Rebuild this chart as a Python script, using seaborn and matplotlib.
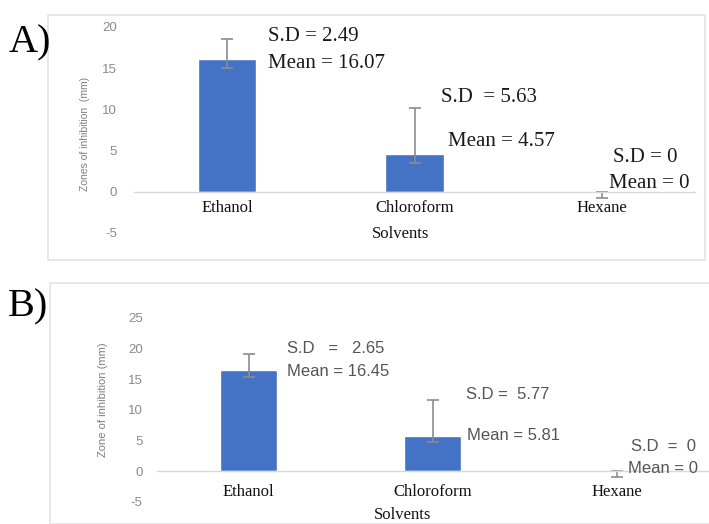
import numpy as np
import pandas as pd
import matplotlib
matplotlib.use("Agg")
import matplotlib.pyplot as plt
import seaborn as sns
from matplotlib.patches import Rectangle

# data
solvents = ["Ethanol", "Chloroform", "Hexane"]
mean_a = [16.07, 4.57, 0.0]
sd_a = [2.49, 5.63, 0.0]
low_a = [1.07, 1.07, 0.8]      # lower whisker as drawn in the picture
mean_b = [16.45, 5.81, 0.0]
sd_b = [2.65, 5.77, 0.0]
low_b = [1.1, 1.1, 0.9]

sd_text_a = ["S.D = 2.49", "S.D  = 5.63", "S.D = 0"]
mean_text_a = ["Mean = 16.07", "Mean = 4.57", "Mean = 0"]
sd_text_b = ["S.D   =   2.65", "S.D =  5.77", "S.D  =  0"]
mean_text_b = ["Mean = 16.45", "Mean = 5.81", "Mean = 0"]

sns.set_theme(style="white")
plt.rcParams["font.family"] = ["Liberation Sans", "DejaVu Sans"]

BLUE = "#4472C4"
GREY = "#8c8c8c"
SERIF = ["Liberation Serif", "DejaVu Serif"]
SANS = ["Liberation Sans", "DejaVu Sans"]

fig = plt.figure(figsize=(7.09, 5.24), dpi=100)

# panel frames
fig.patches.append(Rectangle((48 / 709, 1 - 260 / 524), 657 / 709, 245 / 524,
                             transform=fig.transFigure, fill=False,
                             edgecolor="#e4e4e4", lw=1.2))
fig.patches.append(Rectangle((50 / 709, 1 - 524 / 524), 660 / 709, 241 / 524,
                             transform=fig.transFigure, fill=False,
                             edgecolor="#e4e4e4", lw=1.2))


def panel(rect, means, sds, lows, ylim, yticks, sd_txt, mean_txt,
          sd_pos, mean_pos, ann_font, ann_color, ann_size, ypad, xpad):
    ax = fig.add_axes(rect)
    df = pd.DataFrame({"solvent": solvents, "mean": means})
    sns.barplot(data=df, x="solvent", y="mean", color=BLUE, width=0.31,
                saturation=1, errorbar=None, ax=ax)
    ax.errorbar(range(len(solvents)), means, yerr=[lows, sds], fmt="none",
                ecolor=GREY, elinewidth=1.2, capsize=4, capthick=1.2)
    ax.set_xlim(-0.5, 2.5)
    ax.set_ylim(*ylim)
    ax.set_yticks(yticks)
    ax.set_yticklabels([str(t) for t in yticks], color="#8a8a8a", fontsize=9.5)
    for s in ["top", "right", "left"]:
        ax.spines[s].set_visible(False)
    ax.spines["bottom"].set_position(("data", 0))
    ax.spines["bottom"].set_color("#d9d9d9")
    ax.spines["bottom"].set_linewidth(1)
    ax.tick_params(length=0)
    ax.tick_params(axis="y", pad=ypad)
    ax.tick_params(axis="x", pad=xpad)
    ax.set_xticks(range(len(solvents)))
    ax.set_xticklabels(solvents, family=SERIF, fontsize=12, color="#111111")
    ax.set_xlabel("")
    ax.set_ylabel("")
    ax.patch.set_alpha(0)
    for i in range(len(solvents)):
        ax.text(sd_pos[i][0], sd_pos[i][1], sd_txt[i], family=ann_font,
                color=ann_color, fontsize=ann_size, va="center", ha="left")
        ax.text(mean_pos[i][0], mean_pos[i][1], mean_txt[i], family=ann_font,
                color=ann_color, fontsize=ann_size, va="center", ha="left")
    return ax


axA = panel([133.5 / 709, 1 - 233 / 524, 562 / 709, 206 / 524],
            mean_a, sd_a, low_a, (-5, 20), [-5, 0, 5, 10, 15, 20],
            sd_text_a, mean_text_a,
            [(0.22, 18.8), (1.14, 11.5), (2.06, 4.2)],
            [(0.22, 15.6), (1.18, 6.1), (2.04, 1.0)],
            SERIF, "#1a1a1a", 15, 12, 6)

axB = panel([156.5 / 709, 1 - 502 / 524, 552 / 709, 184 / 524],
            mean_b, sd_b, low_b, (-5, 25), [-5, 0, 5, 10, 15, 20, 25],
            sd_text_b, mean_text_b,
            [(0.21, 20.0), (1.18, 12.5), (2.08, 4.0)],
            [(0.21, 16.3), (1.19, 5.9), (2.06, 0.45)],
            SANS, "#555555", 12, 10, 9)

# y labels
fig.text(85 / 709, 1 - 134 / 524, "Zones of inhibition  (mm)", family=SANS,
         rotation=90, ha="center", va="center", fontsize=7.5, color="#7f7f7f")
fig.text(103 / 709, 1 - 400 / 524, "Zone of inhibition (mm)", family=SANS,
         rotation=90, ha="center", va="center", fontsize=8, color="#7f7f7f")

# x labels
fig.text(401 / 709, 1 - 234 / 524, "Solvents", family=SERIF, ha="center",
         va="center", fontsize=12, color="#111111")
fig.text(403 / 709, 1 - 515 / 524, "Solvents", family=SERIF, ha="center",
         va="center", fontsize=12, color="#111111")

# panel letters
fig.text(9 / 709, 1 - 43 / 524, "A)", family=SERIF, fontsize=29,
         ha="left", va="center", color="black")
fig.text(8 / 709, 1 - 307 / 524, "B)", family=SERIF, fontsize=29,
         ha="left", va="center", color="black")

fig.savefig("out.png", dpi=100)
